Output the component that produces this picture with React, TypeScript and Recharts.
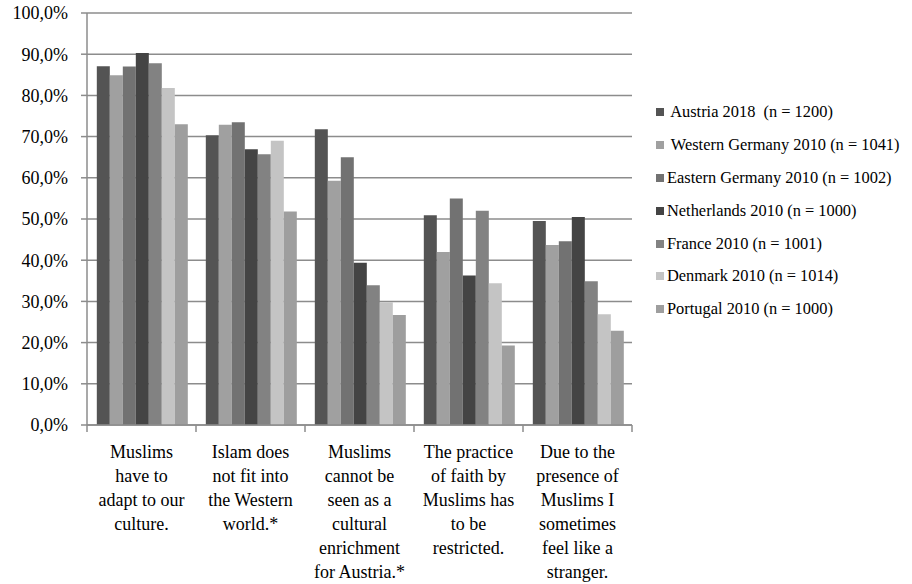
import { BarChart, Bar, XAxis, YAxis, CartesianGrid } from 'recharts';

const categories = [
  'Muslims have to adapt to our culture.',
  'Islam does not fit into the Western world.*',
  'Muslims cannot be seen as a cultural enrichment for Austria.*',
  'The practice of faith by Muslims has to be restricted.',
  'Due to the presence of Muslims I sometimes feel like a stranger.',
];

const categoryLines = [
  ['Muslims', 'have to', 'adapt to our', 'culture.'],
  ['Islam does', 'not fit into', 'the Western', 'world.*'],
  ['Muslims', 'cannot be', 'seen as a', 'cultural', 'enrichment', 'for Austria.*'],
  ['The practice', 'of faith by', 'Muslims has', 'to be', 'restricted.'],
  ['Due to the', 'presence of', 'Muslims I', 'sometimes', 'feel like a', 'stranger.'],
];

const austria = [87.1, 70.3, 71.8, 50.9, 49.5];
const westernGermany = [84.9, 72.9, 59.3, 42.0, 43.7];
const easternGermany = [87.0, 73.5, 65.0, 55.0, 44.6];
const netherlands = [90.3, 66.9, 39.4, 36.3, 50.5];
const france = [87.8, 65.7, 33.9, 52.0, 34.9];
const denmark = [81.8, 69.0, 29.8, 34.4, 26.9];
const portugal = [73.0, 51.8, 26.7, 19.3, 22.9];

const yTicks = [0, 10, 20, 30, 40, 50, 60, 70, 80, 90, 100];

const series = [
  { key: 'austria', name: ' Austria 2018  (n = 1200)', values: austria, color: '#545454' },
  { key: 'westernGermany', name: ' Western Germany 2010 (n = 1041)', values: westernGermany, color: '#a0a0a0' },
  { key: 'easternGermany', name: 'Eastern Germany 2010 (n = 1002)', values: easternGermany, color: '#727272' },
  { key: 'netherlands', name: 'Netherlands 2010 (n = 1000)', values: netherlands, color: '#444444' },
  { key: 'france', name: 'France 2010 (n = 1001)', values: france, color: '#828282' },
  { key: 'denmark', name: 'Denmark 2010 (n = 1014)', values: denmark, color: '#c4c4c4' },
  { key: 'portugal', name: 'Portugal 2010 (n = 1000)', values: portugal, color: '#9e9e9e' },
];

const data = categories.map((c, i) => {
  const row: Record<string, string | number> = { category: c };
  series.forEach((s) => {
    row[s.key] = s.values[i];
  });
  return row;
});

const FONT = "'Liberation Serif', serif";
const GRID = '#8c8c8c';

function CategoryTick(props: any) {
  const { x, y, payload, index, width, visibleTicksCount } = props;
  const half = payload?.offset ?? width / visibleTicksCount / 2;
  const lines = categoryLines[index] || [];
  const last = index === visibleTicksCount - 1;
  return (
    <g>
      <line x1={x - half} x2={x - half} y1={y} y2={y + 7} stroke={GRID} strokeWidth={1.5} />
      {last && <line x1={x + half} x2={x + half} y1={y} y2={y + 7} stroke={GRID} strokeWidth={1.5} />}
      <text x={x} y={y + 33} textAnchor="middle" fontSize={18} fontFamily={FONT} fill="#000">
        {lines.map((l, i) => (
          <tspan key={i} x={x} dy={i === 0 ? 0 : 24}>
            {l}
          </tspan>
        ))}
      </text>
    </g>
  );
}

function ChartLegend() {
  return (
    <div style={{ position: 'absolute', left: 656, top: 95.5, fontFamily: FONT, fontSize: 16.4, color: '#000' }}>
      {series.map((s) => (
        <div key={s.key} style={{ height: 32.9, display: 'flex', alignItems: 'center' }}>
          <span style={{ width: 8, height: 8, background: s.color, display: 'inline-block', marginRight: 3 }} />
          <span style={{ whiteSpace: 'pre' }}>{s.name}</span>
        </div>
      ))}
    </div>
  );
}

export default function App() {
  return (
    <div style={{ position: 'absolute', left: 0, top: 0, width: 912, height: 584, background: '#fff' }}>
      <BarChart
        width={912}
        height={584}
        data={data}
        margin={{ top: 13, right: 280, left: 0, bottom: 0 }}
        barCategoryGap="9%"
        barGap={0}
      >
        <CartesianGrid vertical={false} stroke={GRID} strokeWidth={1.5} />
        <XAxis
          dataKey="category"
          height={159}
          interval={0}
          tickLine={false}
          tickSize={0}
          tickMargin={0}
          axisLine={{ stroke: GRID, strokeWidth: 1.5 }}
          tick={<CategoryTick />}
        />
        <YAxis
          width={87}
          domain={[0, 100]}
          ticks={yTicks}
          interval={0}
          tickSize={6}
          tickMargin={13}
          tickLine={{ stroke: GRID, strokeWidth: 1.5 }}
          axisLine={{ stroke: GRID, strokeWidth: 1.5 }}
          tickFormatter={(v: number) => `${v.toFixed(1).replace('.', ',')}%`}
          tick={{ fontSize: 18, fontFamily: FONT, fill: '#000' }}
        />
        {series.map((s) => (
          <Bar key={s.key} dataKey={s.key} name={s.name} fill={s.color} isAnimationActive={false} />
        ))}
      </BarChart>
      <ChartLegend />
    </div>
  );
}
